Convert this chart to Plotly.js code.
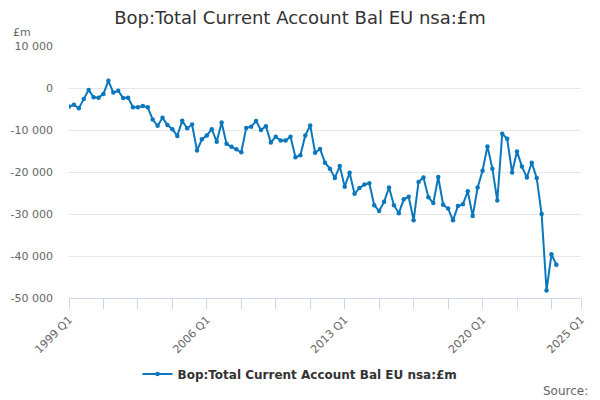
<!DOCTYPE html>
<html>
<head>
<meta charset="utf-8">
<script src="https://cdn.plot.ly/plotly-3.0.1.min.js"></script>
<style>
html,body{margin:0;padding:0;background:#fff;}
#chart{width:600px;height:400px;}
</style>
</head>
<body>
<div id="chart"></div>
<script>
// Quarterly periods 1999 Q1 .. 2023 Q4 (index 0..99), axis runs to 2025 Q1 (index 104)
const seriesName = "Bop:Total Current Account Bal EU nsa:£m";
const values = [
  -4400, -4000, -4800, -2600, -450, -2200, -2300, -1400,
  1700, -1100, -650, -2400, -2300, -4600, -4600, -4300,
  -4600, -7500, -9000, -7100, -8800, -9800, -11400, -7800,
  -9600, -8700, -14900, -12200, -11300, -9800, -12800, -8200,
  -13300, -14000, -14600, -15300, -9500, -9200, -7850, -10000,
  -9100, -13000, -11600, -12500, -12500, -11600, -16500, -16000,
  -11300, -8900, -15400, -14500, -17800, -19200, -21400, -18600,
  -23500, -20200, -25200, -23800, -23000, -22700, -27900, -29300,
  -27100, -23700, -27900, -29800, -26500, -25900, -31500, -22400,
  -21300, -26000, -27400, -21200, -27800, -28700, -31500, -28100,
  -27700, -24600, -30500, -23700, -19700, -13900, -19200, -26800,
  -10900, -12100, -20100, -15100, -18700, -21300, -17800, -21400,
  -30000, -48200, -39600, -42100
];
const xIndex = values.map((v, i) => i);
const xTickVals = [0, 7, 14, 21, 28, 35, 42, 49, 56, 63, 70, 77, 84, 91, 98, 104];
const xTickText = ["1999 Q1", "", "", "", "2006 Q1", "", "", "", "2013 Q1", "", "", "", "2020 Q1", "", "", "2025 Q1"];
const yTickVals = [10000, 0, -10000, -20000, -30000, -40000, -50000];
const yTickText = ["10 000", "0", "-10 000", "-20 000", "-30 000", "-40 000", "-50 000"];

const FONT = "DejaVu Sans, Verdana, sans-serif";

const trace = {
  x: xIndex,
  y: values,
  type: "scatter",
  mode: "lines+markers",
  name: seriesName,
  line: {color: "#0b77bd", width: 2},
  marker: {color: "#0b77bd", size: 4.5, symbol: "circle"},
  hoverinfo: "skip"
};

const layout = {
  width: 600,
  height: 400,
  margin: {l: 69, r: 19, t: 46, b: 102},
  paper_bgcolor: "#ffffff",
  plot_bgcolor: "#ffffff",
  font: {family: FONT, color: "#666666", size: 11},
  title: {
    text: seriesName,
    x: 0.5, xref: "container", xanchor: "center",
    y: 0.955, yref: "container", yanchor: "middle",
    font: {family: FONT, size: 18, color: "#333333"}
  },
  showlegend: true,
  legend: {
    orientation: "h",
    x: 0.5, xref: "container", xanchor: "center",
    y: 0.065, yref: "container", yanchor: "middle",
    font: {family: FONT, size: 12, color: "#333333", weight: "bold"},
    itemwidth: 30
  },
  xaxis: {
    range: [0, 104],
    tickmode: "array",
    tickvals: xTickVals,
    ticktext: xTickText,
    tickangle: -45,
    ticks: "outside",
    ticklen: 10,
    tickcolor: "#ccd6eb",
    tickwidth: 1,
    showline: true,
    linecolor: "#ccd6eb",
    linewidth: 1,
    showgrid: false,
    zeroline: false,
    tickfont: {family: FONT, size: 11, color: "#666666"},
    fixedrange: true
  },
  yaxis: {
    range: [-50000, 10000],
    tickmode: "array",
    tickvals: yTickVals,
    ticktext: yTickText,
    showgrid: true,
    gridcolor: "#e6e6e6",
    gridwidth: 1,
    zeroline: false,
    showline: false,
    ticks: "",
    ticklabelstandoff: 15,
    tickfont: {family: FONT, size: 11, color: "#666666"},
    fixedrange: true
  },
  annotations: [
    {
      text: "£m", xref: "paper", yref: "paper",
      x: -0.113, y: 1.053, xanchor: "left", yanchor: "middle",
      showarrow: false, font: {family: FONT, size: 11, color: "#666666"}
    },
    {
      text: "Source:", xref: "paper", yref: "paper",
      x: 1.0176, y: -0.37, xanchor: "right", yanchor: "middle",
      showarrow: false, font: {family: FONT, size: 12, color: "#666666"}
    }
  ]
};

Plotly.newPlot("chart", [trace], layout, {displayModeBar: false, staticPlot: true});
</script>
</body>
</html>
